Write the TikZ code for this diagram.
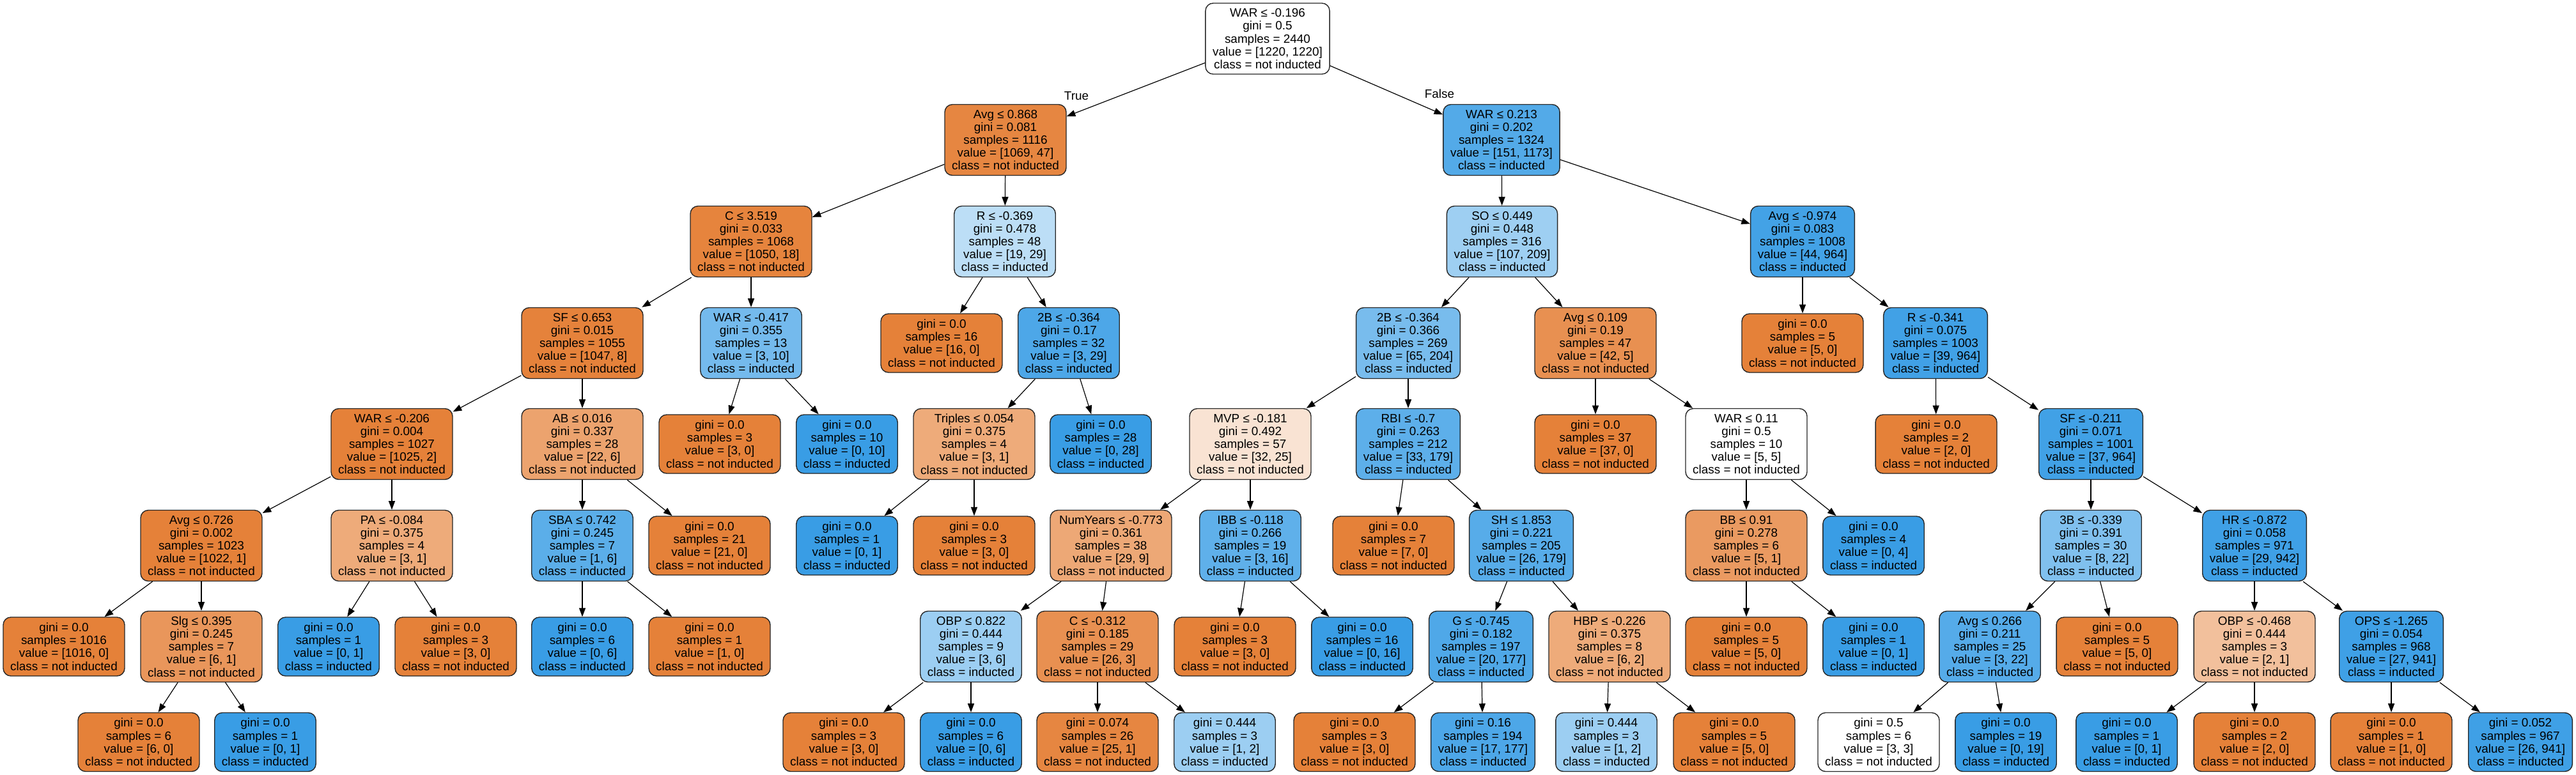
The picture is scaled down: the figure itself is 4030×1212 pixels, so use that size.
\documentclass[tikz,border=0pt]{standalone}
\usepackage{fontspec}
\setmainfont{Liberation Sans}
\usepackage{xcolor}
\usetikzlibrary{arrows.meta}
\definecolor{ni}{RGB}{229,129,57}
\definecolor{ind}{RGB}{57,157,229}
\tikzset{
box/.style={draw=black!85, line width=0.7pt, rounded corners=6pt, align=center, inner xsep=5.6pt, inner ysep=1pt, font=\fontsize{9.45}{10.1}\selectfont},
dec/.style={box, fill=#1, minimum height=55.5pt},
leaf/.style={box, fill=#1, minimum height=46pt},
arr/.style={-{Triangle[length=6.8pt,width=5pt]}, line width=0.6pt},
lbl/.style={font=\fontsize{9.45}{10.1}\selectfont, inner sep=0pt}
}
\newcommand{\dtxt}[5]{#1\\gini = #2\\samples = #3\\value = [#4]\\class = #5}
\newcommand{\ltxt}[4]{gini = #1\\samples = #2\\value = [#3]\\class = #4}

\begin{document}
\begin{tikzpicture}[x=0.5pt,y=-0.5pt]
\useasboundingbox (0,0) rectangle (4030,1212);
% rank 0 and 1
\node[dec=white] (n) at (1983,60.5) {\dtxt{WAR ≤ -0.196}{0.5}{2440}{1220, 1220}{not inducted}};
\node[dec=ni!96] (nl) at (1573,219) {\dtxt{Avg ≤ 0.868}{0.081}{1116}{1069, 47}{not inducted}};
\node[dec=ind!87] (nr) at (2349,219) {\dtxt{WAR ≤ 0.213}{0.202}{1324}{151, 1173}{inducted}};
\node[lbl] (ltrue) at (1684,150) {True};
\node[lbl] (lfalse) at (2252,147) {False};
% rank 2
\node[dec=ni!98] (nll) at (1175,378) {\dtxt{C ≤ 3.519}{0.033}{1068}{1050, 18}{not inducted}};
\node[dec=ind!34] (nlr) at (1572,378) {\dtxt{R ≤ -0.369}{0.478}{48}{19, 29}{inducted}};
\node[dec=ind!49] (nrl) at (2350,378) {\dtxt{SO ≤ 0.449}{0.448}{316}{107, 209}{inducted}};
\node[dec=ind!95] (nrr) at (2820,378) {\dtxt{Avg ≤ -0.974}{0.083}{1008}{44, 964}{inducted}};
% rank 3
\node[dec=ni!99] (nlll) at (911,537) {\dtxt{SF ≤ 0.653}{0.015}{1055}{1047, 8}{not inducted}};
\node[dec=ind!70] (nllr) at (1175,537) {\dtxt{WAR ≤ -0.417}{0.355}{13}{3, 10}{inducted}};
\node[leaf=ni] (nlrl) at (1473,537) {\ltxt{0.0}{16}{16, 0}{not inducted}};
\node[dec=ind!90] (nlrr) at (1672,537) {\dtxt{2B ≤ -0.364}{0.17}{32}{3, 29}{inducted}};
\node[dec=ind!68] (nrll) at (2203,537) {\dtxt{2B ≤ -0.364}{0.366}{269}{65, 204}{inducted}};
\node[dec=ni!88] (nrlr) at (2496,537) {\dtxt{Avg ≤ 0.109}{0.19}{47}{42, 5}{not inducted}};
\node[leaf=ni] (nrrl) at (2820,537) {\ltxt{0.0}{5}{5, 0}{not inducted}};
\node[dec=ind!96] (nrrr) at (3028,537) {\dtxt{R ≤ -0.341}{0.075}{1003}{39, 964}{inducted}};
% rank 4
\node[dec=ni] (nllll) at (613,695) {\dtxt{WAR ≤ -0.206}{0.004}{1027}{1025, 2}{not inducted}};
\node[dec=ni!73] (nlllr) at (911,695) {\dtxt{AB ≤ 0.016}{0.337}{28}{22, 6}{not inducted}};
\node[leaf=ni] (nllrl) at (1126,695) {\ltxt{0.0}{3}{3, 0}{not inducted}};
\node[leaf=ind] (nllrr) at (1325,695) {\ltxt{0.0}{10}{0, 10}{inducted}};
\node[dec=ni!67] (nlrrl) at (1524,695) {\dtxt{Triples ≤ 0.054}{0.375}{4}{3, 1}{not inducted}};
\node[leaf=ind] (nlrrr) at (1722,695) {\ltxt{0.0}{28}{0, 28}{inducted}};
\node[dec=ni!22] (nrlll) at (1956,695) {\dtxt{MVP ≤ -0.181}{0.492}{57}{32, 25}{not inducted}};
\node[dec=ind!82] (nrllr) at (2203,695) {\dtxt{RBI ≤ -0.7}{0.263}{212}{33, 179}{inducted}};
\node[leaf=ni] (nrlrl) at (2496,695) {\ltxt{0.0}{37}{37, 0}{not inducted}};
\node[dec=white] (nrlrr) at (2732,695) {\dtxt{WAR ≤ 0.11}{0.5}{10}{5, 5}{not inducted}};
\node[leaf=ni] (nrrrl) at (3029,695) {\ltxt{0.0}{2}{2, 0}{not inducted}};
\node[dec=ind!96] (nrrrr) at (3271,695) {\dtxt{SF ≤ -0.211}{0.071}{1001}{37, 964}{inducted}};
% rank 5
\node[dec=ni] (nlllll) at (315,854) {\dtxt{Avg ≤ 0.726}{0.002}{1023}{1022, 1}{not inducted}};
\node[dec=ni!67] (nllllr) at (613,854) {\dtxt{PA ≤ -0.084}{0.375}{4}{3, 1}{not inducted}};
\node[dec=ind!83] (nlllrl) at (911,854) {\dtxt{SBA ≤ 0.742}{0.245}{7}{1, 6}{inducted}};
\node[leaf=ni] (nlllrr) at (1110,854) {\ltxt{0.0}{21}{21, 0}{not inducted}};
\node[leaf=ind] (nlrrll) at (1325,854) {\ltxt{0.0}{1}{0, 1}{inducted}};
\node[leaf=ni] (nlrrlr) at (1524,854) {\ltxt{0.0}{3}{3, 0}{not inducted}};
\node[dec=ni!69] (nrllll) at (1738,854) {\dtxt{NumYears ≤ -0.773}{0.361}{38}{29, 9}{not inducted}};
\node[dec=ind!81] (nrlllr) at (1956,854) {\dtxt{IBB ≤ -0.118}{0.266}{19}{3, 16}{inducted}};
\node[leaf=ni] (nrllrl) at (2180,854) {\ltxt{0.0}{7}{7, 0}{not inducted}};
\node[dec=ind!85] (nrllrr) at (2380,854) {\dtxt{SH ≤ 1.853}{0.221}{205}{26, 179}{inducted}};
\node[dec=ni!80] (nrlrrl) at (2732,854) {\dtxt{BB ≤ 0.91}{0.278}{6}{5, 1}{not inducted}};
\node[leaf=ind] (nrlrrr) at (2931,854) {\ltxt{0.0}{4}{0, 4}{inducted}};
\node[dec=ind!64] (nrrrrl) at (3271,854) {\dtxt{3B ≤ -0.339}{0.391}{30}{8, 22}{inducted}};
\node[dec=ind!97] (nrrrrr) at (3527,854) {\dtxt{HR ≤ -0.872}{0.058}{971}{29, 942}{inducted}};
% rank 6
\node[leaf=ni] (nllllll) at (100,1012) {\ltxt{0.0}{1016}{1016, 0}{not inducted}};
\node[dec=ni!83] (nlllllr) at (315,1012) {\dtxt{Slg ≤ 0.395}{0.245}{7}{6, 1}{not inducted}};
\node[leaf=ind] (nllllrl) at (514,1012) {\ltxt{0.0}{1}{0, 1}{inducted}};
\node[leaf=ni] (nllllrr) at (713,1012) {\ltxt{0.0}{3}{3, 0}{not inducted}};
\node[leaf=ind] (nlllrll) at (911,1012) {\ltxt{0.0}{6}{0, 6}{inducted}};
\node[leaf=ni] (nlllrlr) at (1110,1012) {\ltxt{0.0}{1}{1, 0}{not inducted}};
\node[dec=ind!50] (nrlllll) at (1519,1012) {\dtxt{OBP ≤ 0.822}{0.444}{9}{3, 6}{inducted}};
\node[dec=ni!88] (nrllllr) at (1717,1012) {\dtxt{C ≤ -0.312}{0.185}{29}{26, 3}{not inducted}};
\node[leaf=ni] (nrlllrl) at (1932,1012) {\ltxt{0.0}{3}{3, 0}{not inducted}};
\node[leaf=ind] (nrlllrr) at (2131,1012) {\ltxt{0.0}{16}{0, 16}{inducted}};
\node[dec=ind!89] (nrllrrl) at (2317,1012) {\dtxt{G ≤ -0.745}{0.182}{197}{20, 177}{inducted}};
\node[dec=ni!67] (nrllrrr) at (2518,1012) {\dtxt{HBP ≤ -0.226}{0.375}{8}{6, 2}{not inducted}};
\node[leaf=ni] (nrlrrll) at (2732,1012) {\ltxt{0.0}{5}{5, 0}{not inducted}};
\node[leaf=ind] (nrlrrlr) at (2931,1012) {\ltxt{0.0}{1}{0, 1}{inducted}};
\node[dec=ind!86] (nrrrrll) at (3113,1012) {\dtxt{Avg ≤ 0.266}{0.211}{25}{3, 22}{inducted}};
\node[leaf=ni] (nrrrrlr) at (3312,1012) {\ltxt{0.0}{5}{5, 0}{not inducted}};
\node[dec=ni!50] (nrrrrrl) at (3527,1012) {\dtxt{OBP ≤ -0.468}{0.444}{3}{2, 1}{not inducted}};
\node[dec=ind!97] (nrrrrrr) at (3741,1012) {\dtxt{OPS ≤ -1.265}{0.054}{968}{27, 941}{inducted}};
% rank 7
\node[leaf=ni] (nlllllrl) at (217,1161.5) {\ltxt{0.0}{6}{6, 0}{not inducted}};
\node[leaf=ind] (nlllllrr) at (415,1161.5) {\ltxt{0.0}{1}{0, 1}{inducted}};
\node[leaf=ni] (nrllllll) at (1320,1161.5) {\ltxt{0.0}{3}{3, 0}{not inducted}};
\node[leaf=ind] (nrlllllr) at (1519,1161.5) {\ltxt{0.0}{6}{0, 6}{inducted}};
\node[leaf=ni!96] (nrllllrl) at (1717,1161.5) {\ltxt{0.074}{26}{25, 1}{not inducted}};
\node[leaf=ind!50] (nrllllrr) at (1916,1161.5) {\ltxt{0.444}{3}{1, 2}{inducted}};
\node[leaf=ni] (nrllrrll) at (2119,1161.5) {\ltxt{0.0}{3}{3, 0}{not inducted}};
\node[leaf=ind!90] (nrllrrlr) at (2320,1161.5) {\ltxt{0.16}{194}{17, 177}{inducted}};
\node[leaf=ind!50] (nrllrrrl) at (2513,1161.5) {\ltxt{0.444}{3}{1, 2}{inducted}};
\node[leaf=ni] (nrllrrrr) at (2713,1161.5) {\ltxt{0.0}{5}{5, 0}{not inducted}};
\node[leaf=white] (nrrrrlll) at (2939,1161.5) {\ltxt{0.5}{6}{3, 3}{not inducted}};
\node[leaf=ind] (nrrrrllr) at (3138,1161.5) {\ltxt{0.0}{19}{0, 19}{inducted}};
\node[leaf=ind] (nrrrrrll) at (3327,1161.5) {\ltxt{0.0}{1}{0, 1}{inducted}};
\node[leaf=ni] (nrrrrrlr) at (3527,1161.5) {\ltxt{0.0}{2}{2, 0}{not inducted}};
\node[leaf=ni] (nrrrrrrl) at (3741,1161.5) {\ltxt{0.0}{1}{1, 0}{not inducted}};
\node[leaf=ind!97] (nrrrrrrr) at (3943,1161.5) {\ltxt{0.052}{967}{26, 941}{inducted}};
% edges
\path (n) edge[arr] (nl) edge[arr] (nr);
\path (nl) edge[arr] (nll) edge[arr] (nlr);
\path (nr) edge[arr] (nrl) edge[arr] (nrr);
\path (nll) edge[arr] (nlll) edge[arr] (nllr);
\path (nlr) edge[arr] (nlrl) edge[arr] (nlrr);
\path (nrl) edge[arr] (nrll) edge[arr] (nrlr);
\path (nrr) edge[arr] (nrrl) edge[arr] (nrrr);
\path (nlll) edge[arr] (nllll) edge[arr] (nlllr);
\path (nllr) edge[arr] (nllrl) edge[arr] (nllrr);
\path (nlrr) edge[arr] (nlrrl) edge[arr] (nlrrr);
\path (nrll) edge[arr] (nrlll) edge[arr] (nrllr);
\path (nrlr) edge[arr] (nrlrl) edge[arr] (nrlrr);
\path (nrrr) edge[arr] (nrrrl) edge[arr] (nrrrr);
\path (nllll) edge[arr] (nlllll) edge[arr] (nllllr);
\path (nlllr) edge[arr] (nlllrl) edge[arr] (nlllrr);
\path (nlrrl) edge[arr] (nlrrll) edge[arr] (nlrrlr);
\path (nrlll) edge[arr] (nrllll) edge[arr] (nrlllr);
\path (nrllr) edge[arr] (nrllrl) edge[arr] (nrllrr);
\path (nrlrr) edge[arr] (nrlrrl) edge[arr] (nrlrrr);
\path (nrrrr) edge[arr] (nrrrrl) edge[arr] (nrrrrr);
\path (nlllll) edge[arr] (nllllll) edge[arr] (nlllllr);
\path (nllllr) edge[arr] (nllllrl) edge[arr] (nllllrr);
\path (nlllrl) edge[arr] (nlllrll) edge[arr] (nlllrlr);
\path (nrllll) edge[arr] (nrlllll) edge[arr] (nrllllr);
\path (nrlllr) edge[arr] (nrlllrl) edge[arr] (nrlllrr);
\path (nrllrr) edge[arr] (nrllrrl) edge[arr] (nrllrrr);
\path (nrlrrl) edge[arr] (nrlrrll) edge[arr] (nrlrrlr);
\path (nrrrrl) edge[arr] (nrrrrll) edge[arr] (nrrrrlr);
\path (nrrrrr) edge[arr] (nrrrrrl) edge[arr] (nrrrrrr);
\path (nlllllr) edge[arr] (nlllllrl) edge[arr] (nlllllrr);
\path (nrlllll) edge[arr] (nrllllll) edge[arr] (nrlllllr);
\path (nrllllr) edge[arr] (nrllllrl) edge[arr] (nrllllrr);
\path (nrllrrl) edge[arr] (nrllrrll) edge[arr] (nrllrrlr);
\path (nrllrrr) edge[arr] (nrllrrrl) edge[arr] (nrllrrrr);
\path (nrrrrll) edge[arr] (nrrrrlll) edge[arr] (nrrrrllr);
\path (nrrrrrl) edge[arr] (nrrrrrll) edge[arr] (nrrrrrlr);
\path (nrrrrrr) edge[arr] (nrrrrrrl) edge[arr] (nrrrrrrr);
\end{tikzpicture}
\end{document}
